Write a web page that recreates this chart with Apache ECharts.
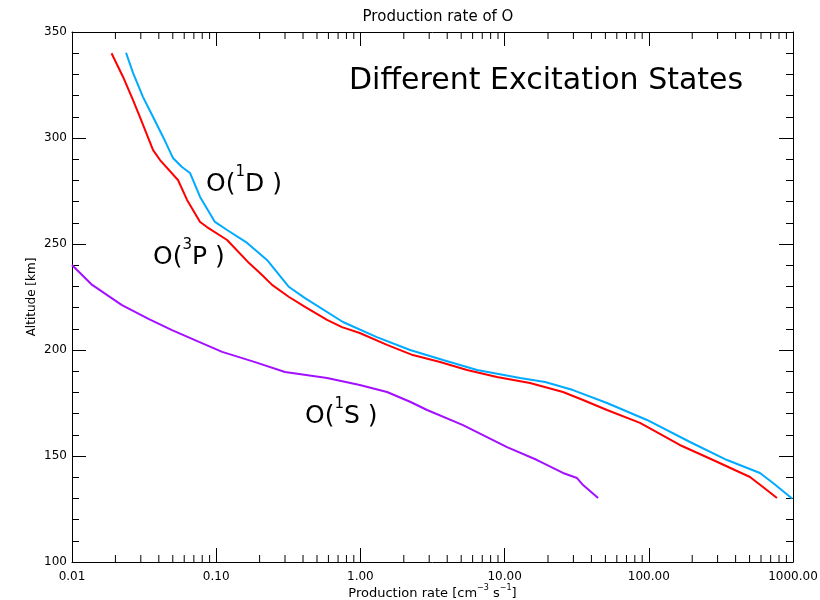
<!DOCTYPE html>
<html>
<head>
<meta charset="utf-8">
<script src="https://cdn.jsdelivr.net/npm/echarts@6/dist/echarts.min.js"></script>
<style>html,body{margin:0;padding:0;background:#fff}#c{width:820px;height:600px}</style>
</head>
<body>
<div id="c"></div>
<script>
// ---- data ----
const o3pRate = [0.0188,0.0226,0.0265,0.0296,0.0365,0.0408,0.0543,0.0628,0.0773,0.0863,0.119,0.169,0.208,0.244,0.320,0.413,0.587,0.745,0.99,1.53,2.31,3.57,5.49,8.85,15.0,25.4,35.0,51.3,86.9,164,279,503,619,774];
const o3pAlt  = [340.0,328.8,317.9,309.9,294.3,289.6,280.2,270.8,260.4,258.0,251.9,241.0,235.4,230.7,225.0,220.3,214.2,210.8,208.0,202.4,197.6,194.3,190.6,187.3,184.4,180.2,176.4,171.7,165.6,155.2,148.1,140.1,135.4,130.2];

const o1dRate = [0.0237,0.0265,0.0311,0.0365,0.0428,0.0501,0.0579,0.0658,0.0773,0.098,0.119,0.164,0.225,0.320,0.413,0.757,1.30,2.21,3.74,6.44,12.8,19.1,29.8,51.3,97.2,193,349,590,727,990];
const o1dAlt  = [340.2,330.7,319.3,309.9,300.5,290.6,286.3,283.5,272.2,260.4,256.6,250.5,242.5,229.7,224.5,213.2,206.1,200.0,195.3,190.6,186.8,184.9,181.1,175.0,167.0,156.6,148.1,142.0,137.3,129.8];

const o1sRate = [0.0100,0.0138,0.0222,0.0342,0.0494,0.0760,0.110,0.186,0.300,0.587,0.99,1.53,2.21,2.90,5.15,10.4,16.8,25.4,31.8,35.0,44.5];
const o1sAlt  = [240.1,230.7,221.2,214.6,209.4,203.8,199.1,194.3,189.6,186.8,183.5,180.2,175.6,171.7,164.6,154.2,148.1,142.0,139.6,136.3,130.2];

const xMajorTicks = [0.01,0.1,1,10,100,1000];
const xMinorTicks = [0.02,0.03,0.04,0.05,0.06,0.07,0.08,0.09,
                     0.2,0.3,0.4,0.5,0.6,0.7,0.8,0.9,
                     2,3,4,5,6,7,8,9,
                     20,30,40,50,60,70,80,90,
                     200,300,400,500,600,700,800,900];
const yTicks = [100,150,200,250,300,350];

const pair = (xs, ys) => xs.map((x, i) => [x, ys[i]]);

const chart = echarts.init(document.getElementById('c'), null, {renderer: 'canvas'});
const axisFont = {fontFamily: 'DejaVu Sans', fontSize: 12, color: '#000'};
const supRich = (size, lh) => ({
  m: {fontFamily: 'DejaVu Sans', fontSize: size, lineHeight: lh, verticalAlign: 'bottom', color: '#000'},
  s: {fontFamily: 'DejaVu Sans', fontSize: Math.round(size * 0.6), lineHeight: lh, verticalAlign: 'top', color: '#000'}
});

const option = {
  backgroundColor: '#fff',
  animation: false,
  title: {
    text: 'Production rate of O',
    left: 433, top: 5, textAlign: 'center',
    textStyle: {fontFamily: 'DejaVu Sans', fontSize: 15, fontWeight: 'normal', color: '#000'}
  },
  grid: {left: 72, right: 27, top: 32, bottom: 38, containLabel: false, outerBoundsMode: 'none'},
  xAxis: [{
    type: 'log', logBase: 10, min: xMajorTicks[0], max: xMajorTicks[xMajorTicks.length-1],
    position: 'bottom',
    name: '{m|Production rate [cm}{s|−3}{m| s}{s|−1}{m|]}', nameLocation: 'middle', nameGap: 22,
    nameMoveOverlap: false,
    nameTextStyle: {rich: supRich(13, 16)},
    axisLine: {show: true, lineStyle: {color: '#000', width: 1}},
    axisTick: {show: true, inside: true, length: 14, lineStyle: {color: '#000'}},
    axisLabel: Object.assign({margin: 9, formatter: v => Number(v).toFixed(2)}, axisFont),
    splitLine: {show: false}
  }, {
    type: 'log', logBase: 10, min: xMajorTicks[0], max: xMajorTicks[xMajorTicks.length-1],
    position: 'top',
    axisLine: {show: true, lineStyle: {color: '#000', width: 1}},
    axisTick: {show: true, inside: true, length: 14, lineStyle: {color: '#000'}},
    axisLabel: {show: false},
    splitLine: {show: false}
  }],
  yAxis: [{
    type: 'value', min: yTicks[0], max: yTicks[yTicks.length-1], interval: 50,
    position: 'left',
    name: 'Altitude [km]', nameLocation: 'middle', nameGap: 34,
    nameMoveOverlap: false,
    nameTextStyle: {fontFamily: 'DejaVu Sans', fontSize: 12, color: '#000'},
    axisLine: {show: true, lineStyle: {color: '#000', width: 1}},
    axisTick: {show: true, inside: true, length: 14, lineStyle: {color: '#000'}},
    minorTick: {show: true, splitNumber: 5, length: 7, lineStyle: {color: '#000'}},
    axisLabel: Object.assign({margin: 5}, axisFont),
    splitLine: {show: false}, minorSplitLine: {show: false}
  }, {
    type: 'value', min: yTicks[0], max: yTicks[yTicks.length-1], interval: 50,
    position: 'right',
    axisLine: {show: true, lineStyle: {color: '#000', width: 1}},
    axisTick: {show: true, inside: true, length: 14, lineStyle: {color: '#000'}},
    minorTick: {show: true, splitNumber: 5, length: 7, lineStyle: {color: '#000'}},
    axisLabel: {show: false},
    splitLine: {show: false}, minorSplitLine: {show: false}
  }],
  series: [
    {type: 'line', name: 'O(3P)', data: pair(o3pRate, o3pAlt), showSymbol: false, symbol: 'none',
     lineStyle: {color: '#ff0000', width: 2}, itemStyle: {color: '#ff0000'}, z: 3},
    {type: 'line', name: 'O(1D)', data: pair(o1dRate, o1dAlt), showSymbol: false, symbol: 'none',
     lineStyle: {color: '#00aaff', width: 2}, itemStyle: {color: '#00aaff'}, z: 3},
    {type: 'line', name: 'O(1S)', data: pair(o1sRate, o1sAlt), showSymbol: false, symbol: 'none',
     lineStyle: {color: '#a30fff', width: 2}, itemStyle: {color: '#a30fff'}, z: 3},
    {type: 'custom', name: 'minorX', silent: true, clip: false, z: 4,
     data: xMinorTicks.map(v => [v, yTicks[0]]),
     encode: {x: 0, y: 1},
     renderItem: function (params, api) {
       const v = api.value(0);
       const b = api.coord([v, yTicks[0]]);
       const t = api.coord([v, yTicks[yTicks.length-1]]);
       return {type: 'group', children: [
         {type: 'line', shape: {x1: b[0], y1: b[1], x2: b[0], y2: b[1] - 7}, style: {stroke: '#000', lineWidth: 1}},
         {type: 'line', shape: {x1: t[0], y1: t[1], x2: t[0], y2: t[1] + 7}, style: {stroke: '#000', lineWidth: 1}}
       ]};
     }}
  ],
  graphic: [
    {type: 'text', left: 349, top: 66, style: {text: 'Different Excitation States', font: '30px "DejaVu Sans"', fill: '#000'}},
    {type: 'text', left: 206, top: 165, style: {text: '{m|O(}{s|1}{m|D )}', rich: supRich(25, 32)}},
    {type: 'text', left: 153, top: 238, style: {text: '{m|O(}{s|3}{m|P )}', rich: supRich(25, 32)}},
    {type: 'text', left: 305, top: 397, style: {text: '{m|O(}{s|1}{m|S )}', rich: supRich(25, 32)}}
  ]
};
chart.setOption(option);
</script>
</body>
</html>
